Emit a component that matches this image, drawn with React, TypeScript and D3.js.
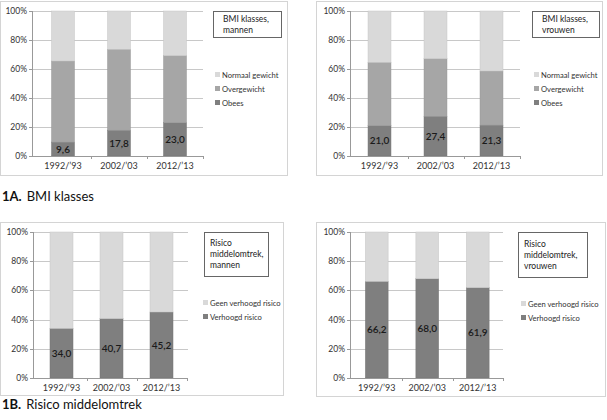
import * as d3 from 'd3';
import { useEffect, useRef } from 'react';

const width = 607;
const height = 420;

const periods = ['1992/’93', '2002/’03', '2012/’13'];
const yTicks = [0, 20, 40, 60, 80, 100];

// BMI klasses (percentages)
const bmiSeries = ['Obees', 'Overgewicht', 'Normaal gewicht'];
const bmiMenObees = [9.6, 17.8, 23.0];
const bmiMenOver = [55.9, 55.8, 46.2];
const bmiWomenObees = [21.0, 27.4, 21.3];
const bmiWomenOver = [43.6, 39.7, 37.3];

// Risico middelomtrek (percentages)
const waistSeries = ['Verhoogd risico', 'Geen verhoogd risico'];
const waistMen = [34.0, 40.7, 45.2];
const waistWomen = [66.2, 68.0, 61.9];

const colors = ['#7f7f7f', '#a6a6a6', '#d9d9d9'];
const fontFamily = 'Lato, "Open Sans", sans-serif';

type Panel = {
  frame: [number, number, number, number];
  axisX: number;
  gridRight: number;
  yTop: number;
  yBottom: number;
  band: [number, number];
  barPad: number;
  box: [number, number, number, number];
  title: string[];
  legendX: number;
  legendY: number[];
  series: string[];
  colorIdx: number[];
  stacks: number[][];
};

const restOf = (...parts: number[][]) =>
  parts[0].map((_, i) => 100 - d3.sum(parts, (p) => p[i]));

const panels: Panel[] = [
  {
    frame: [0.5, 1.5, 287, 174],
    axisX: 32,
    gridRight: 203,
    yTop: 11,
    yBottom: 156,
    band: [35, 203],
    barPad: 0.59,
    box: [213, 11, 68, 26],
    title: ['BMI klasses,', 'mannen'],
    legendX: 215,
    legendY: [103, 89, 75],
    series: bmiSeries,
    colorIdx: [0, 1, 2],
    stacks: [bmiMenObees, bmiMenOver, restOf(bmiMenObees, bmiMenOver)],
  },
  {
    frame: [316.5, 1.5, 286, 174],
    axisX: 350,
    gridRight: 520,
    yTop: 11,
    yBottom: 156,
    band: [351.5, 519.5],
    barPad: 0.59,
    box: [532, 11, 67, 26],
    title: ['BMI klasses,', 'vrouwen'],
    legendX: 534,
    legendY: [103, 89, 75],
    series: bmiSeries,
    colorIdx: [0, 1, 2],
    stacks: [bmiWomenObees, bmiWomenOver, restOf(bmiWomenObees, bmiWomenOver)],
  },
  {
    frame: [0.5, 222.5, 283, 173],
    axisX: 33,
    gridRight: 188,
    yTop: 232,
    yBottom: 378,
    band: [36.5, 186.5],
    barPad: 0.54,
    box: [204, 232, 64, 44],
    title: ['Risico', 'middelomtrek,', 'mannen'],
    legendX: 203,
    legendY: [317, 303],
    series: waistSeries,
    colorIdx: [0, 2],
    stacks: [waistMen, restOf(waistMen)],
  },
  {
    frame: [316.5, 222.5, 289, 174],
    axisX: 350,
    gridRight: 503,
    yTop: 232,
    yBottom: 378,
    band: [351.5, 503],
    barPad: 0.55,
    box: [518, 232, 69, 45],
    title: ['Risico', 'middelomtrek,', 'vrouwen'],
    legendX: 521,
    legendY: [318, 304],
    series: waistSeries,
    colorIdx: [0, 2],
    stacks: [waistWomen, restOf(waistWomen)],
  },
];

const drawPanel = (svg: d3.Selection<SVGSVGElement, unknown, null, undefined>, p: Panel) => {
  const g = svg.append('g');
  g.append('rect')
    .attr('x', p.frame[0])
    .attr('y', p.frame[1])
    .attr('width', p.frame[2])
    .attr('height', p.frame[3])
    .attr('fill', '#fff')
    .attr('stroke', '#d4d4d4');

  const y = d3.scaleLinear().domain([0, 100]).range([p.yBottom, p.yTop]);
  const x = d3
    .scaleBand<string>()
    .domain(periods)
    .range(p.band)
    .paddingInner(p.barPad)
    .paddingOuter(p.barPad / 2);

  // gridlines
  g.selectAll('line.grid')
    .data(yTicks.filter((t) => t > 0))
    .join('line')
    .attr('x1', p.axisX)
    .attr('x2', p.gridRight)
    .attr('y1', (d) => Math.round(y(d)) + 0.5)
    .attr('y2', (d) => Math.round(y(d)) + 0.5)
    .attr('stroke', '#c8c8c8');

  // y tick labels + marks
  g.selectAll('text.ytick')
    .data(yTicks)
    .join('text')
    .attr('x', p.axisX - 5)
    .attr('y', (d) => y(d) + 3)
    .attr('text-anchor', 'end')
    .attr('font-size', 8.5)
    .attr('fill', '#333')
    .text((d) => `${d}%`);
  g.selectAll('line.ymark')
    .data(yTicks)
    .join('line')
    .attr('x1', p.axisX - 3)
    .attr('x2', p.axisX)
    .attr('y1', (d) => Math.round(y(d)) + 0.5)
    .attr('y2', (d) => Math.round(y(d)) + 0.5)
    .attr('stroke', '#999');

  // bars
  const stack = d3
    .stack<number>()
    .keys(p.series.map((_, i) => String(i)))
    .value((i, k) => p.stacks[+k][i]);
  const layers = stack(periods.map((_, i) => i));
  layers.forEach((layer, li) => {
    g.append('g')
      .selectAll('rect')
      .data(layer)
      .join('rect')
      .attr('x', (_, i) => x(periods[i])!)
      .attr('width', x.bandwidth())
      .attr('y', (d) => y(d[1]))
      .attr('height', (d) => y(d[0]) - y(d[1]))
      .attr('fill', colors[p.colorIdx[li]])
      .attr('stroke', d3.color(colors[p.colorIdx[li]])!.darker(0.25).formatHex())
      .attr('stroke-width', 0.5);
  });

  // value labels on bottom segment
  g.selectAll('text.val')
    .data(layers[0])
    .join('text')
    .attr('x', (_, i) => x(periods[i])! + x.bandwidth() / 2)
    .attr('y', (d) => (y(d[0]) + y(d[1])) / 2 + 3.5)
    .attr('text-anchor', 'middle')
    .attr('font-size', 10)
    .attr('font-weight', 600)
    .attr('fill', '#1a1a1a')
    .text((_, i) => d3.format('.1f')(p.stacks[0][i]).replace('.', ','));

  // axes
  g.append('line')
    .attr('x1', p.axisX + 0.5)
    .attr('x2', p.axisX + 0.5)
    .attr('y1', p.yTop)
    .attr('y2', p.yBottom)
    .attr('stroke', '#999');
  g.append('line')
    .attr('x1', p.axisX)
    .attr('x2', p.gridRight)
    .attr('y1', p.yBottom + 0.5)
    .attr('y2', p.yBottom + 0.5)
    .attr('stroke', '#999');
  const step = x.step();
  const bounds = periods.map((c) => x(c)! + x.bandwidth() / 2 + step / 2);
  g.selectAll('line.xmark')
    .data(bounds)
    .join('line')
    .attr('x1', (d) => Math.round(d) + 0.5)
    .attr('x2', (d) => Math.round(d) + 0.5)
    .attr('y1', p.yBottom)
    .attr('y2', p.yBottom + 3)
    .attr('stroke', '#999');
  g.selectAll('text.xtick')
    .data(periods)
    .join('text')
    .attr('x', (d) => x(d)! + x.bandwidth() / 2)
    .attr('y', p.yBottom + 13)
    .attr('text-anchor', 'middle')
    .attr('font-size', 9)
    .attr('fill', '#333')
    .text((d) => d);

  // title box
  g.append('rect')
    .attr('x', p.box[0] + 0.5)
    .attr('y', p.box[1] + 0.5)
    .attr('width', p.box[2])
    .attr('height', p.box[3])
    .attr('fill', '#fff')
    .attr('stroke', '#666');
  const lh = 11;
  const ty0 = p.box[1] + p.box[3] / 2 - ((p.title.length - 1) * lh) / 2 + 3;
  g.selectAll('text.title')
    .data(p.title)
    .join('text')
    .attr('x', p.title.length > 2 ? p.box[0] + 6 : p.box[0] + 10)
    .attr('y', (_, i) => ty0 + i * lh)
    .attr('font-size', 8.5)
    .attr('fill', '#222')
    .text((d) => d);

  // legend
  p.series.forEach((s, i) => {
    g.append('rect')
      .attr('x', p.legendX)
      .attr('y', p.legendY[i] - 3)
      .attr('width', 5)
      .attr('height', 5)
      .attr('fill', colors[p.colorIdx[i]]);
    g.append('text')
      .attr('x', p.legendX + 7)
      .attr('y', p.legendY[i] + 2.5)
      .attr('font-size', 7.6)
      .attr('fill', '#333')
      .text(s);
  });
};

export default function App() {
  const ref = useRef<SVGSVGElement>(null);

  useEffect(() => {
    const svg = d3.select(ref.current!);
    svg.selectAll('*').remove();
    svg.attr('font-family', fontFamily);
    svg.append('rect').attr('width', width).attr('height', height).attr('fill', '#fff');

    panels.forEach((p) => drawPanel(svg, p));

    const caption = (yPos: number, bold: string, rest: string) => {
      const t = svg
        .append('text')
        .attr('x', 2)
        .attr('y', yPos)
        .attr('font-size', 13)
        .attr('fill', '#111');
      t.append('tspan').attr('font-weight', 700).text(bold);
      t.append('tspan').attr('dx', 5).text(rest);
    };
    caption(201, '1A.', 'BMI klasses');
    caption(409, '1B.', 'Risico middelomtrek');
  }, []);

  return (
    <svg
      ref={ref}
      width={width}
      height={height}
      style={{ position: 'absolute', left: 0, top: 0 }}
    />
  );
}
